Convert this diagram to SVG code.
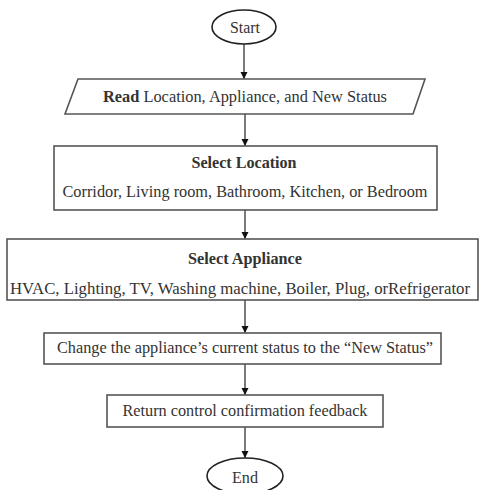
<svg xmlns="http://www.w3.org/2000/svg" width="479" height="490" viewBox="0 0 479 490">
<style>
.s{fill:#fff;stroke:#555;stroke-width:1.6}
.e{fill:#fff;stroke:#222;stroke-width:1.6}
.t{font-size:16px;fill:#333;text-anchor:middle}
.b{font-weight:bold}
.c{stroke:#333;stroke-width:1.3;fill:none;marker-end:url(#a)}
</style>
<defs>
<marker id="a" viewBox="0 0 10 10" refX="10" refY="5" markerWidth="7" markerHeight="9" markerUnits="userSpaceOnUse" orient="auto">
<path d="M0,0 L10,5 L0,10 z" fill="#111"/>
</marker>
</defs>
<rect width="479" height="490" fill="#fff"/>
<g id="connectors">
<line class="c" x1="244" y1="44" x2="244" y2="79"/>
<line class="c" x1="245" y1="114" x2="245" y2="146"/>
<line class="c" x1="245" y1="210" x2="245" y2="239"/>
<line class="c" x1="245" y1="300" x2="245" y2="333"/>
<line class="c" x1="245" y1="364" x2="245" y2="395"/>
<line class="c" x1="245" y1="427" x2="245" y2="458"/>
</g>
<g font-family="'Liberation Serif', 'DejaVu Serif', serif">
<g id="start">
<ellipse class="e" cx="244" cy="27" rx="32" ry="17"/>
<text class="t" x="245" y="33" textLength="30" lengthAdjust="spacingAndGlyphs">Start</text>
</g>
<g id="read">
<polygon class="s" points="78,79 425,79 413,114 65,114"/>
<text class="t" x="245" y="102" textLength="284" lengthAdjust="spacingAndGlyphs"><tspan class="b">Read</tspan> Location, Appliance, and New Status</text>
</g>
<g id="location">
<rect class="s" x="54" y="146" width="383" height="64"/>
<text class="t b" x="244" y="168" textLength="105" lengthAdjust="spacingAndGlyphs">Select Location</text>
<text class="t" x="245" y="197" textLength="365" lengthAdjust="spacingAndGlyphs">Corridor, Living room, Bathroom, Kitchen, or Bedroom</text>
</g>
<g id="appliance">
<rect class="s" x="7" y="239" width="471" height="61"/>
<text class="t b" x="245" y="264" textLength="114" lengthAdjust="spacingAndGlyphs">Select Appliance</text>
<text class="t" x="240" y="294" textLength="460" lengthAdjust="spacingAndGlyphs">HVAC, Lighting, TV, Washing machine, Boiler, Plug, orRefrigerator</text>
</g>
<g id="change">
<rect class="s" x="44" y="333" width="397" height="31"/>
<text class="t" x="245" y="353" textLength="376" lengthAdjust="spacingAndGlyphs">Change the appliance’s current status to the “New Status”</text>
</g>
<g id="return">
<rect class="s" x="107" y="395" width="276" height="32"/>
<text class="t" x="245" y="416" textLength="245" lengthAdjust="spacingAndGlyphs">Return control confirmation feedback</text>
</g>
<g id="end">
<ellipse class="e" cx="245" cy="476" rx="38" ry="18"/>
<text class="t" x="245" y="483" textLength="26" lengthAdjust="spacingAndGlyphs">End</text>
</g>
</g>
</svg>
